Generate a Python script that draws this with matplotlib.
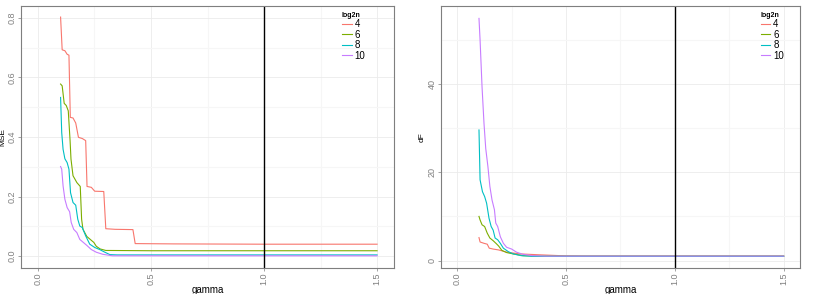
import matplotlib

matplotlib.use("Agg")
import matplotlib.pyplot as plt
from matplotlib.ticker import MultipleLocator

plt.rcParams["font.family"] = ["Liberation Sans", "DejaVu Sans"]

LOG2N = ["4", "6", "8", "10"]
COLORS = ["#F8766D", "#7CAE00", "#00BFC4", "#C77CFF"]

# MSE vs gamma
mse_gamma = {
    "4": [0.10, 0.107, 0.119, 0.129, 0.137, 0.143, 0.155, 0.167, 0.179, 0.196, 0.211,
          0.217, 0.236, 0.251, 0.291, 0.300, 0.341, 0.42, 0.43, 0.6, 1.0, 1.5],
    "6": [0.10, 0.107, 0.116, 0.125, 0.134, 0.142, 0.146, 0.155, 0.172, 0.187, 0.193,
          0.199, 0.216, 0.236, 0.247, 0.258, 0.275, 0.30, 0.5, 1.0, 1.5],
    "8": [0.10, 0.105, 0.111, 0.119, 0.129, 0.137, 0.144, 0.155, 0.167, 0.176, 0.185,
          0.196, 0.211, 0.229, 0.251, 0.273, 0.296, 0.318, 0.35, 0.5, 1.0, 1.5],
    "10": [0.10, 0.105, 0.111, 0.119, 0.129, 0.14, 0.147, 0.158, 0.172, 0.185, 0.199,
           0.216, 0.236, 0.258, 0.287, 0.33, 0.5, 1.0, 1.5],
}
mse_values = {
    "4": [0.803, 0.693, 0.69, 0.678, 0.675, 0.466, 0.464, 0.447, 0.399, 0.395, 0.388,
          0.234, 0.231, 0.218, 0.217, 0.092, 0.090, 0.089, 0.042, 0.041, 0.040, 0.040],
    "6": [0.578, 0.572, 0.513, 0.506, 0.488, 0.388, 0.326, 0.27, 0.247, 0.234, 0.124,
          0.09, 0.066, 0.053, 0.046, 0.033, 0.024, 0.019, 0.018, 0.018, 0.018],
    "8": [0.533, 0.415, 0.359, 0.327, 0.314, 0.292, 0.213, 0.180, 0.171, 0.124, 0.101,
          0.096, 0.068, 0.040, 0.029, 0.022, 0.013, 0.005, 0.004, 0.004, 0.004, 0.004],
    "10": [0.301, 0.292, 0.236, 0.191, 0.163, 0.149, 0.113, 0.090, 0.079, 0.056, 0.047,
           0.036, 0.022, 0.013, 0.006, 0.001, 0.001, 0.001, 0.001],
}

# dF vs gamma
df_gamma = {
    "4": [0.10, 0.105, 0.123, 0.138, 0.147, 0.165, 0.19, 0.227, 0.287, 0.376, 0.495,
          0.6, 1.0, 1.5],
    "6": [0.10, 0.105, 0.114, 0.126, 0.138, 0.150, 0.165, 0.18, 0.19, 0.205, 0.227,
          0.257, 0.302, 0.376, 1.0, 1.5],
    "8": [0.10, 0.105, 0.116, 0.126, 0.135, 0.146, 0.156, 0.165, 0.174, 0.186, 0.198,
          0.212, 0.235, 0.257, 0.294, 0.346, 1.0, 1.5],
    "10": [0.10, 0.105, 0.114, 0.123, 0.131, 0.141, 0.150, 0.160, 0.171, 0.177, 0.186,
           0.198, 0.212, 0.227, 0.25, 0.272, 0.302, 0.346, 0.406, 1.0, 1.5],
}
df_values = {
    "4": [5.2, 4.2, 3.9, 3.7, 2.8, 2.6, 2.4, 1.9, 1.5, 1.3, 1.06, 1.0, 1.0, 1.0],
    "6": [10.0, 9.2, 8.1, 7.7, 6.2, 5.1, 4.5, 3.8, 3.3, 2.3, 1.8, 1.5, 1.1, 1.0, 1.0, 1.0],
    "8": [29.6, 18.3, 15.6, 14.5, 13.0, 9.6, 7.7, 6.9, 5.1, 4.7, 3.9, 2.8, 2.0, 1.5,
          1.1, 0.95, 0.95, 0.95],
    "10": [54.9, 50.0, 39.4, 31.1, 25.4, 21.3, 16.8, 13.7, 11.5, 8.5, 7.7, 5.4, 3.9,
           3.0, 2.6, 1.9, 1.4, 1.1, 1.0, 1.0, 1.0],
}

VLINE_X = 1.0


def style_axis(axis, ylabel, y_major, y_minor, ylim):
    axis.set_xlim(-0.075, 1.575)
    axis.set_ylim(*ylim)
    axis.xaxis.set_major_locator(MultipleLocator(0.5))
    axis.xaxis.set_minor_locator(MultipleLocator(0.25))
    axis.yaxis.set_major_locator(MultipleLocator(y_major))
    axis.yaxis.set_minor_locator(MultipleLocator(y_minor))
    axis.grid(True, which="major", color="#ebebeb", linewidth=0.6)
    axis.grid(True, which="minor", color="#f6f6f6", linewidth=0.8)
    axis.set_axisbelow(True)
    axis.tick_params(which="minor", length=0)
    axis.tick_params(which="major", length=2.2, width=0.5, color="#7f7f7f",
                     labelsize=6.5, labelcolor="#7f7f7f", pad=1)
    for label in axis.get_xticklabels() + axis.get_yticklabels():
        label.set_rotation(90)
        label.set_va("center")
    for label in axis.get_xticklabels():
        label.set_va("top")
    for spine in axis.spines.values():
        spine.set_color("#7f7f7f")
        spine.set_linewidth(0.8)
    axis.set_xlabel("gamma", fontsize=7, labelpad=0)
    axis.set_ylabel(ylabel, fontsize=6, labelpad=1)


figure = plt.figure(figsize=(8.18, 2.94), dpi=100)
left = figure.add_axes([0.0257, 0.0884, 0.456, 0.891])
right = figure.add_axes([0.539, 0.0884, 0.439, 0.891])

for key, color in zip(LOG2N, COLORS):
    left.plot(mse_gamma[key], mse_values[key], color=color, linewidth=0.8, label=key)
    right.plot(df_gamma[key], df_values[key], color=color, linewidth=0.8, label=key)

for axis in (left, right):
    axis.axvline(VLINE_X, color="black", linewidth=1.0)

style_axis(left, "MSE", 0.2, 0.1, (-0.04, 0.84))
style_axis(right, "dF", 20, 10, (-1.7, 57.7))

for axis, anchor in ((left, 0.855), (right, 0.885)):
    legend = axis.legend(
        title="log2n",
        loc="upper left",
        bbox_to_anchor=(anchor, 0.985),
        frameon=False,
        fontsize=7,
        title_fontsize=5,
        handlelength=1.0,
        handletextpad=0.3,
        labelspacing=0.05,
        borderpad=0.2,
        borderaxespad=0.0,
    )
    legend.get_title().set_fontweight("bold")
    legend._legend_box.align = "left"

figure.savefig("out.png", dpi=100)
